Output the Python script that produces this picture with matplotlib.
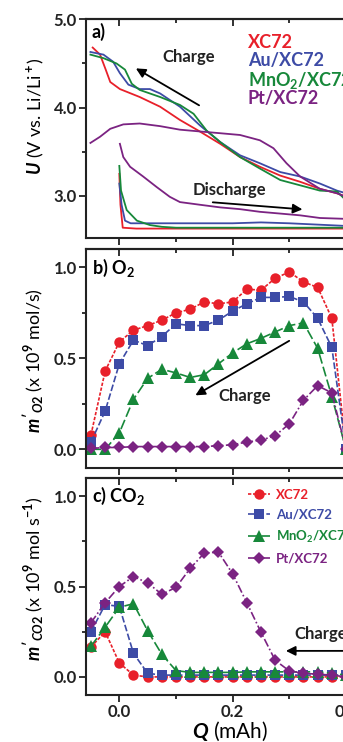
import numpy as np
import matplotlib
matplotlib.use("Agg")
import matplotlib.pyplot as plt
from matplotlib.ticker import MultipleLocator, FormatStrFormatter

plt.rcParams["font.family"] = ["Lato", "DejaVu Sans"]
plt.rcParams["font.weight"] = "bold"
plt.rcParams["mathtext.fontset"] = "custom"
plt.rcParams["mathtext.rm"] = "Lato:bold"
plt.rcParams["mathtext.it"] = "Lato:bold:italic"
plt.rcParams["mathtext.bf"] = "Lato:bold"

names = ["XC72", "Au/XC72", r"MnO$_2$/XC72", "Pt/XC72"]
colors = ["#e8202a", "#3d4ba6", "#17883a", "#7b2382"]
markers = ["o", "s", "^", "D"]

# a) voltage profiles, charge (Q, U)
q_chg_red = [-0.047, -0.034, -0.024, -0.016, 0.001, 0.036, 0.072, 0.107, 0.142, 0.178, 0.213, 0.248, 0.284, 0.319, 0.354, 0.384, 0.40]
u_chg_red = [4.68, 4.60, 4.43, 4.29, 4.21, 4.12, 4.01, 3.86, 3.73, 3.59, 3.44, 3.33, 3.23, 3.16, 3.08, 3.03, 2.99]
q_chg_blue = [-0.051, -0.028, -0.011, 0.001, 0.016, 0.036, 0.054, 0.072, 0.107, 0.142, 0.178, 0.213, 0.248, 0.284, 0.319, 0.354, 0.384, 0.40]
u_chg_blue = [4.63, 4.60, 4.52, 4.39, 4.26, 4.21, 4.21, 4.16, 4.01, 3.80, 3.61, 3.46, 3.37, 3.27, 3.22, 3.14, 3.06, 3.03]
q_chg_green = [-0.051, -0.028, -0.005, 0.010, 0.022, 0.036, 0.072, 0.107, 0.131, 0.154, 0.178, 0.213, 0.248, 0.284, 0.319, 0.354, 0.384, 0.40]
u_chg_green = [4.60, 4.56, 4.50, 4.43, 4.27, 4.20, 4.12, 4.03, 3.93, 3.74, 3.61, 3.44, 3.31, 3.18, 3.12, 3.06, 3.05, 2.95]
q_chg_purple = [-0.051, -0.034, -0.016, 0.007, 0.036, 0.072, 0.107, 0.142, 0.178, 0.213, 0.248, 0.272, 0.295, 0.319, 0.354, 0.384, 0.40]
u_chg_purple = [3.60, 3.67, 3.76, 3.81, 3.82, 3.79, 3.75, 3.73, 3.71, 3.69, 3.63, 3.54, 3.37, 3.22, 3.08, 3.03, 2.99]

# a) discharge
q_dis_red = [0.0, 0.002, 0.006, 0.03, 0.1, 0.2, 0.3, 0.4]
u_dis_red = [3.25, 2.90, 2.64, 2.63, 2.63, 2.63, 2.63, 2.63]
q_dis_blue = [0.0, 0.004, 0.010, 0.02, 0.1, 0.2, 0.25, 0.3, 0.4]
u_dis_blue = [3.14, 2.90, 2.72, 2.69, 2.69, 2.69, 2.70, 2.69, 2.66]
q_dis_green = [0.0, 0.003, 0.013, 0.031, 0.054, 0.075, 0.1, 0.2, 0.3, 0.4]
u_dis_green = [3.34, 3.06, 2.84, 2.72, 2.67, 2.65, 2.64, 2.64, 2.64, 2.64]
q_dis_purple = [0.001, 0.007, 0.019, 0.042, 0.066, 0.089, 0.107, 0.142, 0.178, 0.213, 0.248, 0.284, 0.319, 0.354, 0.40]
u_dis_purple = [3.59, 3.44, 3.33, 3.22, 3.10, 2.99, 2.93, 2.90, 2.87, 2.85, 2.82, 2.80, 2.78, 2.75, 2.74]

# b) O2 evolution rate
q_b = [-0.05, -0.025, 0.0, 0.025, 0.05, 0.075, 0.1, 0.125, 0.15, 0.175, 0.2, 0.225, 0.25, 0.275, 0.3, 0.325, 0.35, 0.375, 0.4]
o2_red = [0.08, 0.43, 0.59, 0.655, 0.68, 0.71, 0.75, 0.77, 0.81, 0.80, 0.81, 0.88, 0.875, 0.94, 0.975, 0.92, 0.89, 0.72, 0.0]
o2_blue = [0.04, 0.21, 0.47, 0.60, 0.57, 0.62, 0.69, 0.68, 0.68, 0.71, 0.76, 0.80, 0.835, 0.835, 0.84, 0.81, 0.72, 0.56, 0.0]
o2_green = [0.0, 0.0, 0.09, 0.275, 0.39, 0.44, 0.42, 0.395, 0.41, 0.47, 0.53, 0.58, 0.61, 0.645, 0.68, 0.695, 0.555, 0.29, 0.0]
o2_purple = [0.005, 0.01, 0.01, 0.015, 0.015, 0.015, 0.015, 0.015, 0.015, 0.02, 0.025, 0.04, 0.05, 0.075, 0.14, 0.27, 0.35, 0.31, 0.0]

# c) CO2 evolution rate
q_c = [-0.05, -0.025, 0.0, 0.025, 0.05, 0.075, 0.1, 0.125, 0.15, 0.175, 0.2, 0.225, 0.25, 0.275, 0.3, 0.325, 0.35, 0.375, 0.4]
co2_red = [0.165, 0.25, 0.077, 0.01, 0.0, 0.0, 0.0, 0.0, 0.0, 0.0, 0.0, 0.0, 0.0, 0.0, 0.0, 0.0, 0.0, 0.0, 0.0]
co2_blue = [0.25, 0.40, 0.39, 0.13, 0.02, 0.01, 0.01, 0.01, 0.01, 0.01, 0.01, 0.01, 0.01, 0.01, 0.01, 0.01, 0.01, 0.01, 0.01]
co2_green = [0.17, 0.275, 0.385, 0.405, 0.255, 0.125, 0.035, 0.025, 0.025, 0.025, 0.025, 0.028, 0.028, 0.028, 0.028, 0.028, 0.028, 0.02, 0.01]
co2_purple = [0.30, 0.41, 0.50, 0.555, 0.52, 0.457, 0.495, 0.60, 0.685, 0.69, 0.57, 0.41, 0.247, 0.092, 0.033, 0.02, 0.015, 0.01, 0.0]

W, H = 343, 742
fig = plt.figure(figsize=(W / 100, H / 100), dpi=100)

xmin, xmax = -0.0588, 0.45
left = 86 / W
width = (xmax - xmin) * 566.7 / W


def make_ax(top_px, bot_px):
    return fig.add_axes([left, 1 - bot_px / H, width, (bot_px - top_px) / H])


ax1 = make_ax(19.3, 238.3)
ax2 = make_ax(249.2, 467.5)
ax3 = make_ax(478.0, 695.0)

for ax in (ax1, ax2, ax3):
    ax.set_xlim(xmin, xmax)
    ax.xaxis.set_major_locator(MultipleLocator(0.2))
    ax.xaxis.set_minor_locator(MultipleLocator(0.1))
    for s in ax.spines.values():
        s.set_linewidth(1.5)
        s.set_color("#222222")
    ax.tick_params(axis="both", which="both", direction="out", width=1.3, colors="#222222",
                   labelsize=12, top=False, right=False)
    ax.tick_params(axis="both", which="major", length=5, pad=1.5)
    ax.tick_params(axis="both", which="minor", length=3)
    # top ticks pointing inwards
    top = ax.secondary_xaxis("top")
    top.xaxis.set_major_locator(MultipleLocator(0.2))
    top.xaxis.set_minor_locator(MultipleLocator(0.1))
    top.tick_params(which="both", direction="in", width=1.3, colors="#222222", labeltop=False)
    top.tick_params(which="major", length=5)
    top.tick_params(which="minor", length=3)
    top.spines["top"].set_linewidth(1.5)

# panel a
chg = [(q_chg_red, u_chg_red), (q_chg_blue, u_chg_blue), (q_chg_green, u_chg_green), (q_chg_purple, u_chg_purple)]
dis = [(q_dis_red, u_dis_red), (q_dis_blue, u_dis_blue), (q_dis_green, u_dis_green), (q_dis_purple, u_dis_purple)]
for (q, u), c in zip(chg, colors):
    ax1.plot(q, u, color=c, lw=1.3)
for (q, u), c in zip(dis, colors):
    ax1.plot(q, u, color=c, lw=1.3)
ax1.set_ylim(2.52, 5.0)
ax1.yaxis.set_major_locator(MultipleLocator(1.0))
ax1.yaxis.set_minor_locator(MultipleLocator(0.5))
ax1.yaxis.set_major_formatter(FormatStrFormatter("%.1f"))
ax1.set_xticklabels([])
ax1.set_ylabel(r"$U$ (V vs. Li/Li$^+$)", fontsize=13)
ax1.yaxis.set_label_coords(-0.139, 0.56)
ax1.text(0.02, 0.94, "a)", transform=ax1.transAxes, fontsize=13, va="center")
ax1.text(0.123, 4.57, "Charge", fontsize=12, ha="center", va="center", color="#222222")
ax1.annotate("", xy=(0.025, 4.46), xytext=(0.145, 4.01),
             arrowprops=dict(arrowstyle="-|>", color="black", lw=1.3, mutation_scale=14))
ax1.text(0.194, 3.065, "Discharge", fontsize=12, ha="center", va="center", color="#222222")
ax1.annotate("", xy=(0.328, 2.845), xytext=(0.16, 2.93),
             arrowprops=dict(arrowstyle="-|>", color="black", lw=1.3, mutation_scale=14))
for i, (n, c) in enumerate(zip(names, colors)):
    ax1.text(0.227, [4.74, 4.53, 4.31, 4.10][i], n, color=c, fontsize=13, va="center")

# panel b
styles = [(0, (2, 1)), (0, (4, 1.5)), (0, (6, 2)), (0, (5, 1.5, 1, 1.5))]
msz = [7.5, 6.5, 8, 6.5]
for y, c, m, ls, ms in zip([o2_red, o2_blue, o2_green, o2_purple], colors, markers, styles, msz):
    ax2.plot(q_b, y, color=c, marker=m, ms=ms, lw=1.2, ls=ls, markeredgewidth=0)
ax2.set_ylim(-0.1, 1.1)
ax2.yaxis.set_major_locator(MultipleLocator(0.5))
ax2.yaxis.set_minor_locator(MultipleLocator(0.25))
ax2.set_xticklabels([])
ax2.set_ylabel(r"$m'_{O2}$ (x 10$^9$ mol/s)", fontsize=13)
ax2.yaxis.set_label_coords(-0.139, 0.49)
ax2.text(0.02, 0.915, r"b) O$_2$", transform=ax2.transAxes, fontsize=13, va="center")
ax2.text(0.222, 0.295, "Charge", fontsize=12, ha="center", va="center", color="#222222")
ax2.annotate("", xy=(0.130, 0.289), xytext=(0.304, 0.604),
             arrowprops=dict(arrowstyle="-|>", color="black", lw=1.3, mutation_scale=14))

# panel c
for y, c, m, ls, ms, n in zip([co2_red, co2_blue, co2_green, co2_purple], colors, markers, styles, msz, names):
    ax3.plot(q_c, y, color=c, marker=m, ms=ms, lw=1.2, ls=ls, markeredgewidth=0, label=n)
ax3.set_ylim(-0.1, 1.1)
ax3.yaxis.set_major_locator(MultipleLocator(0.5))
ax3.yaxis.set_minor_locator(MultipleLocator(0.25))
ax3.xaxis.set_major_formatter(FormatStrFormatter("%.1f"))
ax3.set_ylabel(r"$m'_{CO2}$ (x 10$^9$ mol s$^{-1}$)", fontsize=13)
ax3.yaxis.set_label_coords(-0.139, 0.535)
ax3.set_xlabel(r"$Q$ (mAh)", fontsize=15, labelpad=0)
ax3.text(0.02, 0.915, r"c) CO$_2$", transform=ax3.transAxes, fontsize=13, va="center")
ax3.text(0.309, 0.24, "Charge", fontsize=12, ha="left", va="center", color="#222222")
ax3.annotate("", xy=(0.289, 0.144), xytext=(0.45, 0.144),
             arrowprops=dict(arrowstyle="-|>", color="black", lw=1.3, mutation_scale=14))
leg = ax3.legend(loc="upper left", bbox_to_anchor=(0.545, 0.975), frameon=False, fontsize=9.5,
                 handlelength=1.6, handletextpad=0.5, labelspacing=0.6, labelcolor="linecolor",
                 borderaxespad=0)

fig.savefig("out.png", dpi=100)
